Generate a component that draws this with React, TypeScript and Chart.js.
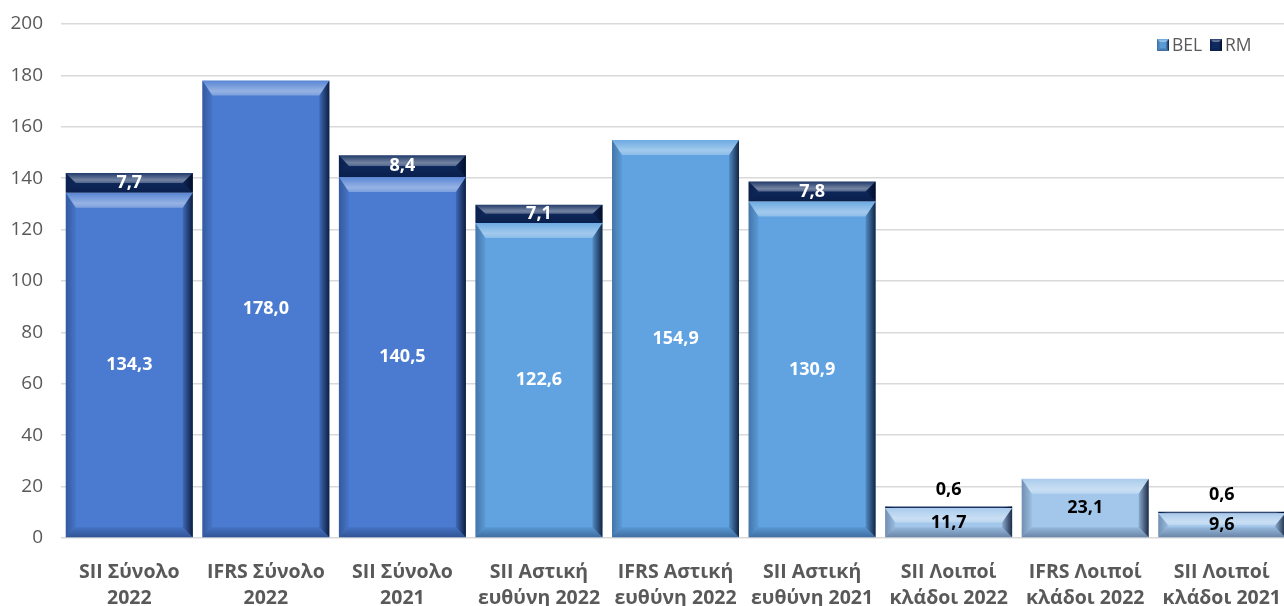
import React, { useEffect, useRef } from 'react';
import { Chart, registerables } from 'chart.js';

Chart.register(...registerables);

const categories: string[][] = [
  ['SII Σύνολο', '2022'],
  ['IFRS Σύνολο', '2022'],
  ['SII Σύνολο', '2021'],
  ['SII Αστική', 'ευθύνη 2022'],
  ['IFRS Αστική', 'ευθύνη 2022'],
  ['SII Αστική', 'ευθύνη 2021'],
  ['SII Λοιποί', 'κλάδοι 2022'],
  ['IFRS Λοιποί', 'κλάδοι 2022'],
  ['SII Λοιποί', 'κλάδοι 2021'],
];
const belValues = [134.3, 178.0, 140.5, 122.6, 154.9, 130.9, 11.7, 23.1, 9.6];
const rmValues: (number | null)[] = [7.7, null, 8.4, 7.1, null, 7.8, 0.6, null, 0.6];
const yMin = 0;
const yMax = 200;
const yStep = 20;
const belColors = ['#4a7bd0', '#4a7bd0', '#4a7bd0', '#60a3e0', '#60a3e0', '#60a3e0', '#a2c7eb', '#a2c7eb', '#a2c7eb'];
const belLabelColors = ['#ffffff', '#ffffff', '#ffffff', '#ffffff', '#ffffff', '#ffffff', '#000000', '#000000', '#000000'];
const rmColor = '#0f2a5e';
const seriesNames = ['BEL', 'RM'];

const fmt = (v: number) => v.toFixed(1).replace('.', ',');
const FONT = '"Open Sans", "Noto Sans", sans-serif';

function drawBevel(ctx: CanvasRenderingContext2D, left: number, right: number, top: number, bottom: number, maxD = 15, maxS = 10, maxB = 10) {
  const w = right - left;
  const h = bottom - top;
  if (w <= 0 || h <= 0) return;
  const d = Math.min(maxD, h / 2);
  const db = Math.min(maxB, h / 2);
  const s = Math.min(maxS, w / 2);
  ctx.save();
  let g = ctx.createLinearGradient(0, top, 0, top + d);
  g.addColorStop(0, 'rgba(255,255,255,0.08)');
  g.addColorStop(0.7, 'rgba(255,255,255,0.42)');
  g.addColorStop(1, 'rgba(255,255,255,0.28)');
  ctx.fillStyle = g;
  ctx.beginPath();
  ctx.moveTo(left, top);
  ctx.lineTo(right, top);
  ctx.lineTo(right - s, top + d);
  ctx.lineTo(left + s, top + d);
  ctx.closePath();
  ctx.fill();
  g = ctx.createLinearGradient(0, bottom - db, 0, bottom);
  g.addColorStop(0, 'rgba(0,10,40,0.08)');
  g.addColorStop(1, 'rgba(0,10,40,0.35)');
  ctx.fillStyle = g;
  ctx.beginPath();
  ctx.moveTo(left, bottom);
  ctx.lineTo(right, bottom);
  ctx.lineTo(right - s, bottom - db);
  ctx.lineTo(left + s, bottom - db);
  ctx.closePath();
  ctx.fill();
  g = ctx.createLinearGradient(left, 0, left + s, 0);
  g.addColorStop(0, 'rgba(0,10,40,0.3)');
  g.addColorStop(1, 'rgba(0,10,40,0.05)');
  ctx.fillStyle = g;
  ctx.beginPath();
  ctx.moveTo(left, top);
  ctx.lineTo(left + s, top + d);
  ctx.lineTo(left + s, bottom - db);
  ctx.lineTo(left, bottom);
  ctx.closePath();
  ctx.fill();
  g = ctx.createLinearGradient(right - s, 0, right, 0);
  g.addColorStop(0, 'rgba(0,10,40,0.15)');
  g.addColorStop(1, 'rgba(0,8,30,0.82)');
  ctx.fillStyle = g;
  ctx.beginPath();
  ctx.moveTo(right, top);
  ctx.lineTo(right - s, top + d);
  ctx.lineTo(right - s, bottom - db);
  ctx.lineTo(right, bottom);
  ctx.closePath();
  ctx.fill();
  ctx.restore();
}

const bevelPlugin = {
  id: 'bevel',
  afterDatasetsDraw(chart: any) {
    const ctx: CanvasRenderingContext2D = chart.ctx;
    const area = chart.chartArea;
    ctx.save();
    ctx.beginPath();
    ctx.rect(area.left, area.top - 2, area.right - area.left, area.bottom - area.top + 4);
    ctx.clip();
    chart.data.datasets.forEach((_ds: any, di: number) => {
      const meta = chart.getDatasetMeta(di);
      meta.data.forEach((el: any, i: number) => {
        const v = chart.data.datasets[di].data[i];
        if (v == null) return;
        const p = el.getProps(['x', 'y', 'base', 'width'], true);
        const left = p.x - p.width / 2;
        const right = p.x + p.width / 2;
        const top = Math.min(p.y, p.base);
        const bottom = Math.max(p.y, p.base);
        drawBevel(ctx, left, right, top, bottom);
      });
    });
    ctx.restore();
  },
};

const labelPlugin = {
  id: 'valueLabels',
  afterDatasetsDraw(chart: any) {
    const ctx: CanvasRenderingContext2D = chart.ctx;
    ctx.save();
    ctx.font = `bold 18px ${FONT}`;
    ctx.textAlign = 'center';
    ctx.textBaseline = 'middle';
    const m0 = chart.getDatasetMeta(0);
    m0.data.forEach((el: any, i: number) => {
      const p = el.getProps(['x', 'y', 'base'], true);
      ctx.fillStyle = belLabelColors[i];
      ctx.fillText(fmt(belValues[i]), p.x, (p.y + p.base) / 2);
    });
    const m1 = chart.getDatasetMeta(1);
    m1.data.forEach((el: any, i: number) => {
      const v = rmValues[i];
      if (v == null) return;
      const p = el.getProps(['x', 'y', 'base'], true);
      const h = Math.abs(p.base - p.y);
      if (h >= 14) {
        ctx.fillStyle = '#ffffff';
        ctx.fillText(fmt(v), p.x, (p.y + p.base) / 2);
      } else {
        ctx.fillStyle = '#000000';
        ctx.fillText(fmt(v), p.x, Math.min(p.y, p.base) - 17);
      }
    });
    ctx.restore();
  },
};

const legendPlugin = {
  id: 'customLegend',
  afterDraw(chart: any) {
    const ctx: CanvasRenderingContext2D = chart.ctx;
    ctx.save();
    const cy = 45;
    const items = [
      { name: seriesNames[0], color: '#5b9bd5', x: 1157 },
      { name: seriesNames[1], color: rmColor, x: 1210 },
    ];
    ctx.font = `17.5px ${FONT}`;
    ctx.textBaseline = 'middle';
    ctx.textAlign = 'left';
    items.forEach((it) => {
      const sz = 12;
      ctx.fillStyle = it.color;
      ctx.fillRect(it.x, cy - sz / 2, sz, sz);
      drawBevel(ctx, it.x, it.x + sz, cy - sz / 2, cy + sz / 2, 3, 3, 3);
      ctx.fillStyle = '#595959';
      ctx.fillText(it.name, it.x + sz + 3, cy + 1);
    });
    ctx.restore();
  },
};

export default function App() {
  const ref = useRef<HTMLCanvasElement | null>(null);
  useEffect(() => {
    if (!ref.current) return;
    const chart = new Chart(ref.current, {
      type: 'bar',
      data: {
        labels: categories,
        datasets: [
          {
            label: seriesNames[0],
            data: belValues,
            backgroundColor: belColors,
            borderWidth: 0,
            barPercentage: 0.93,
            categoryPercentage: 1,
          },
          {
            label: seriesNames[1],
            data: rmValues,
            backgroundColor: rmColor,
            borderWidth: 0,
            barPercentage: 0.93,
            categoryPercentage: 1,
          },
        ],
      },
      options: {
        animation: false,
        responsive: true,
        maintainAspectRatio: false,
        layout: { padding: { top: 24, right: 0, left: 0, bottom: 0 } },
        plugins: {
          legend: { display: false },
          tooltip: { enabled: false },
        },
        scales: {
          x: {
            stacked: true,
            grid: { display: false },
            border: { display: false },
            ticks: {
              color: '#595959',
              font: { family: FONT, size: 19.5, weight: 'bold', lineHeight: 1.35 },
              padding: 13,
              maxRotation: 0,
              autoSkip: false,
            },
            afterFit: (s: any) => {
              s.height = 68;
            },
          },
          y: {
            stacked: true,
            min: yMin,
            max: yMax,
            grid: { color: '#d9d9d9', lineWidth: 1.5, drawTicks: false },
            border: { display: false },
            ticks: {
              stepSize: yStep,
              color: '#595959',
              font: { family: FONT, size: 19 },
              padding: 18,
            },
            afterFit: (s: any) => {
              s.width = 61;
              s.paddingTop = 0;
              s.paddingBottom = 0;
            },
          },
        },
      },
      plugins: [bevelPlugin, labelPlugin, legendPlugin],
    });
    return () => chart.destroy();
  }, []);
  return (
    <div style={{ position: 'fixed', left: 0, top: 0, width: 1284, height: 606, overflow: 'hidden', background: '#fff' }}>
      <div style={{ position: 'relative', width: 1294, height: 606 }}>
        <canvas ref={ref} />
      </div>
    </div>
  );
}
